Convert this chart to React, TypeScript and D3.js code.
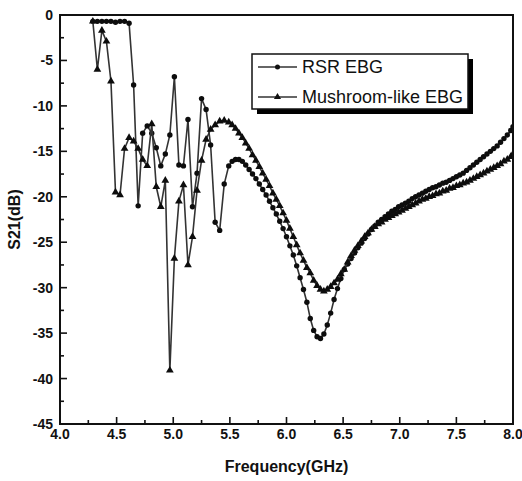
import React from "react";
import * as d3 from "d3";

// ---- data ----
const xTicks = [4.0, 4.5, 5.0, 5.5, 6.0, 6.5, 7.0, 7.5, 8.0];
const yTicks = [0, -5, -10, -15, -20, -25, -30, -35, -40, -45];

// common frequency grid (GHz)
const freqGHz = [
  4.29, 4.33, 4.37, 4.41, 4.45, 4.49, 4.53, 4.57, 4.61, 4.65, 4.69, 4.73, 4.77, 4.81, 4.85, 4.89,
  4.93, 4.97, 5.01, 5.05, 5.09, 5.13, 5.17, 5.21, 5.25, 5.29, 5.33, 5.37, 5.41, 5.45, 5.49,
  5.52, 5.55, 5.58, 5.61, 5.64, 5.67, 5.70, 5.73, 5.76, 5.79, 5.82, 5.85, 5.88, 5.91, 5.94, 5.97,
  6.00, 6.03, 6.06, 6.09, 6.12, 6.15, 6.18, 6.21, 6.24, 6.27, 6.30, 6.33, 6.36, 6.39, 6.42, 6.45,
  6.48, 6.51, 6.54, 6.57, 6.60, 6.63, 6.66, 6.69, 6.72, 6.75, 6.78, 6.81, 6.84, 6.87, 6.90, 6.93,
  6.96, 6.99, 7.02, 7.05, 7.08, 7.11, 7.14, 7.17, 7.20, 7.23, 7.26, 7.29, 7.32, 7.35, 7.38, 7.41,
  7.44, 7.47, 7.50, 7.53, 7.56, 7.59, 7.62, 7.65, 7.68, 7.71, 7.74, 7.77, 7.80, 7.83, 7.86, 7.89,
  7.92, 7.95, 7.98, 8.00,
];

// RSR EBG (circles)
const rsrS21 = [
  -0.7, -0.7, -0.7, -0.7, -0.7, -0.8, -0.7, -0.7, -0.9, -7.7, -21.0, -13.0, -12.2, -13.0, -14.6, -16.6,
  -15.3, -13.2, -6.8, -16.5, -16.6, -11.5, -21.1, -17.4, -9.2, -10.4, -14.3, -22.8, -23.7, -18.6, -16.6,
  -16.1, -15.9, -15.9, -16.1, -16.5, -17.0, -17.5, -18.0, -18.6, -19.2, -19.8, -20.5, -21.2, -21.9, -22.7, -23.5,
  -24.4, -25.4, -26.4, -27.6, -28.9, -30.2, -31.6, -33.4, -34.7, -35.4, -35.6, -35.1, -34.1, -32.8, -31.3, -30.1,
  -29.0, -28.0, -27.4, -26.8, -26.2, -25.6, -25.1, -24.6, -24.1, -23.6, -23.2, -22.8, -22.5, -22.2, -21.9, -21.6,
  -21.4, -21.1, -20.9, -20.7, -20.5, -20.2, -20.0, -19.8, -19.6, -19.4, -19.2, -19.0, -18.9, -18.7, -18.5, -18.4,
  -18.2, -18.0, -17.8, -17.6, -17.4, -17.1, -16.8, -16.5, -16.2, -15.9, -15.6, -15.3, -15.0, -14.7, -14.4, -14.0,
  -13.6, -13.2, -12.7, -12.3,
];

// Mushroom-like EBG (triangles)
const mushS21 = [
  -0.7, -6.0, -1.7, -2.9, -7.3, -19.5, -19.8, -14.7, -13.5, -13.9, -14.7, -15.9, -16.6, -12.0, -18.9, -21.1,
  -18.2, -39.1, -26.8, -20.5, -18.7, -27.5, -24.4, -19.3, -16.0, -13.7, -12.6, -12.1, -11.7, -11.6, -11.8,
  -12.1, -12.5, -13.0, -13.5, -14.1, -14.7, -15.4, -16.0, -16.7, -17.4, -18.1, -18.8, -19.6, -20.3, -21.0, -21.8,
  -22.6, -23.5, -24.4, -25.3, -26.2, -27.0, -27.8, -28.4, -29.2, -29.8, -30.2, -30.4, -30.2, -29.9, -29.5, -29.1,
  -28.5, -28.0, -27.2, -26.5, -25.9, -25.4, -24.9, -24.4, -24.0, -23.6, -23.3, -23.0, -22.8, -22.5, -22.3, -22.1,
  -21.9, -21.7, -21.5, -21.3, -21.1, -20.9, -20.7, -20.5, -20.3, -20.2, -20.0, -19.9, -19.7, -19.6, -19.4, -19.3,
  -19.1, -19.0, -18.8, -18.7, -18.5, -18.4, -18.2, -18.0, -17.8, -17.6, -17.4, -17.2, -17.0, -16.8, -16.6, -16.4,
  -16.1, -15.9, -15.6, -15.3,
];

const series = [
  { name: "RSR EBG", s21: rsrS21, marker: "circle" },
  { name: "Mushroom-like EBG", s21: mushS21, marker: "triangle" },
];

// ---- layout ----
const W = 522;
const H = 481;
const L = 60, R = 513, T = 15, B = 424;
const FONT = "'Liberation Sans', Arial, Helvetica, sans-serif";

export default function App() {
  const x = d3.scaleLinear().domain([4.0, 8.0]).range([L, R]);
  const y = d3.scaleLinear().domain([-45, 0]).range([B, T]);
  const minorX = d3.range(0, 17).map((i) => 4.0 + i * 0.25);
  const minorY = d3.range(0, 19).map((i) => -i * 2.5);
  const tri = d3.symbol(d3.symbolTriangle, 26)();
  const triLeg = d3.symbol(d3.symbolTriangle, 22)();

  return (
    <svg
      width={W}
      height={H}
      style={{ position: "absolute", left: 0, top: 0, background: "#fff" }}
      fontFamily={FONT}
    >
      <rect x={0} y={0} width={W} height={H} fill="#fff" />
      <defs>
        <clipPath id="plot">
          <rect x={L} y={T - 4} width={R - L} height={B - T + 4} />
        </clipPath>
      </defs>

      {/* series */}
      <g clipPath="url(#plot)">
        {series.map((s) => {
          const pts = freqGHz.map((f, i) => [f, s.s21[i]] as [number, number]);
          const path = d3
            .line<[number, number]>()
            .x((d) => x(d[0]))
            .y((d) => y(d[1]))(pts);
          return (
            <g key={s.name}>
              <path d={path || ""} fill="none" stroke="#333" strokeWidth={1.6} />
              {pts.map((d, i) =>
                s.marker === "circle" ? (
                  <circle key={i} cx={x(d[0])} cy={y(d[1])} r={2.7} fill="#0d0d0d" />
                ) : (
                  <path key={i} d={tri || ""} transform={`translate(${x(d[0])},${y(d[1])})`} fill="#0d0d0d" />
                )
              )}
            </g>
          );
        })}
      </g>

      {/* frame */}
      <rect x={L} y={T} width={R - L} height={B - T} fill="none" stroke="#111" strokeWidth={2} />

      {/* x ticks */}
      {minorX.map((v, i) => (
        <line key={"mx" + i} x1={x(v)} x2={x(v)} y1={B} y2={B - (i % 2 === 0 ? 7 : 4)} stroke="#111" strokeWidth={1.6} />
      ))}
      {xTicks.map((v) => (
        <text key={"xt" + v} x={x(v)} y={B + 15} textAnchor="middle" fontSize={14} fontWeight="bold" fill="#111">
          {v.toFixed(1)}
        </text>
      ))}

      {/* y ticks */}
      {minorY.map((v, i) => (
        <line key={"my" + i} x1={L} x2={L + (i % 2 === 0 ? 7 : 4)} y1={y(v)} y2={y(v)} stroke="#111" strokeWidth={1.6} />
      ))}
      {yTicks.map((v) => (
        <text key={"yt" + v} x={L - 7} y={y(v) + 5} textAnchor="end" fontSize={14} fontWeight="bold" fill="#111">
          {v}
        </text>
      ))}

      {/* axis titles */}
      <text x={(L + R) / 2} y={472} textAnchor="middle" fontSize={16} fontWeight="bold" fill="#111">
        Frequency(GHz)
      </text>
      <text
        transform={`translate(20,${(T + B) / 2}) rotate(-90)`}
        textAnchor="middle"
        fontSize={16}
        fontWeight="bold"
        fill="#111"
      >
        S21(dB)
      </text>

      {/* legend */}
      <g>
        <rect x={257} y={59} width={216} height={55} fill="#000" />
        <rect x={252} y={54} width={216} height={55} fill="#fff" stroke="#111" strokeWidth={1.5} />
        <line x1={258} x2={297} y1={67} y2={67} stroke="#333" strokeWidth={1.4} />
        <circle cx={277.5} cy={67} r={2.5} fill="#111" />
        <text x={302} y={73} fontSize={18} fill="#111">RSR EBG</text>
        <line x1={258} x2={297} y1={97} y2={97} stroke="#333" strokeWidth={1.4} />
        <path d={triLeg || ""} transform="translate(277.5,97)" fill="#111" />
        <text x={302} y={103} fontSize={18} fill="#111">Mushroom-like EBG</text>
      </g>
    </svg>
  );
}
